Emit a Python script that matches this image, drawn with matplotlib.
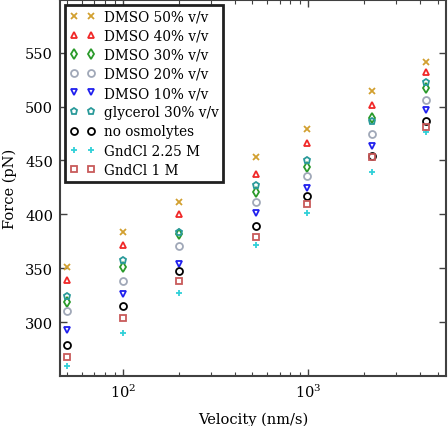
import matplotlib
matplotlib.use("Agg")
import matplotlib.pyplot as plt

plt.rcParams["font.family"] = "DejaVu Serif"

velocity = [50, 100, 200, 520, 980, 2200, 4350]

labels = [
    "DMSO 50% v/v",
    "DMSO 40% v/v",
    "DMSO 30% v/v",
    "DMSO 20% v/v",
    "DMSO 10% v/v",
    "glycerol 30% v/v",
    "no osmolytes",
    "GndCl 2.25 M",
    "GndCl 1 M",
]

dmso50 = [351, 384, 411, 453, 479, 514, 541]
dmso40 = [339, 372, 400, 437, 466, 501, 532]
dmso30 = [319, 351, 382, 421, 444, 489, 517]
dmso20 = [310, 338, 371, 411, 436, 475, 506]
dmso10 = [293, 326, 354, 401, 424, 463, 497]
glycerol30 = [324, 358, 384, 427, 450, 487, 523]
no_osmolytes = [279, 315, 347, 389, 417, 454, 487]
gndcl225 = [259, 290, 327, 372, 401, 439, 476]
gndcl1 = [268, 304, 338, 379, 410, 453, 481]

series = [dmso50, dmso40, dmso30, dmso20, dmso10, glycerol30,
          no_osmolytes, gndcl225, gndcl1]
markers = ["x", "^", "d", "o", "v", "p", "o", "+", "s"]
colors = ["#d2a030", "#f02828", "#2a9a2a", "#a0a8b8", "#2020ee",
          "#2a9a9a", "#000000", "#30d0d8", "#c85a5a"]


def main() -> None:
    fig = plt.figure(figsize=(4.48, 4.27), dpi=100)
    ax = fig.add_axes([0.134, 0.117, 0.862, 0.881])

    for y, lab, m, c in zip(series, labels, markers, colors):
        filled = m in ("x", "+")
        ax.plot(velocity, y, linestyle="none", marker=m, markersize=5,
                markerfacecolor=c if filled else "none", markeredgecolor=c,
                markeredgewidth=1.3, label=lab)

    ax.set_xscale("log")
    ax.set_xlim(45.6, 5570)
    ax.set_ylim(250, 599)
    ax.set_yticks([300, 350, 400, 450, 500, 550])
    ax.set_xlabel("Velocity (nm/s)", fontsize=10.5, labelpad=8)
    ax.set_ylabel("Force (pN)", fontsize=10.5, labelpad=6)

    ax.tick_params(which="both", direction="in", top=True, right=True,
                   labelsize=10.5, color="#404040")
    ax.tick_params(which="major", length=5, width=1, pad=5)
    ax.tick_params(which="minor", length=3, width=0.8)
    for s in ax.spines.values():
        s.set_color("#404040")
        s.set_linewidth(1.5)

    leg = ax.legend(loc="upper left", numpoints=2, fontsize=9.8,
                    frameon=True, fancybox=False, borderaxespad=0.35,
                    handlelength=1.9, handletextpad=0.6, labelspacing=0.38,
                    borderpad=0.35)
    leg.get_frame().set_edgecolor("#202020")
    leg.get_frame().set_linewidth(2)
    leg.get_frame().set_alpha(1)

    fig.savefig("out.png", dpi=100)


if __name__ == "__main__":
    main()
